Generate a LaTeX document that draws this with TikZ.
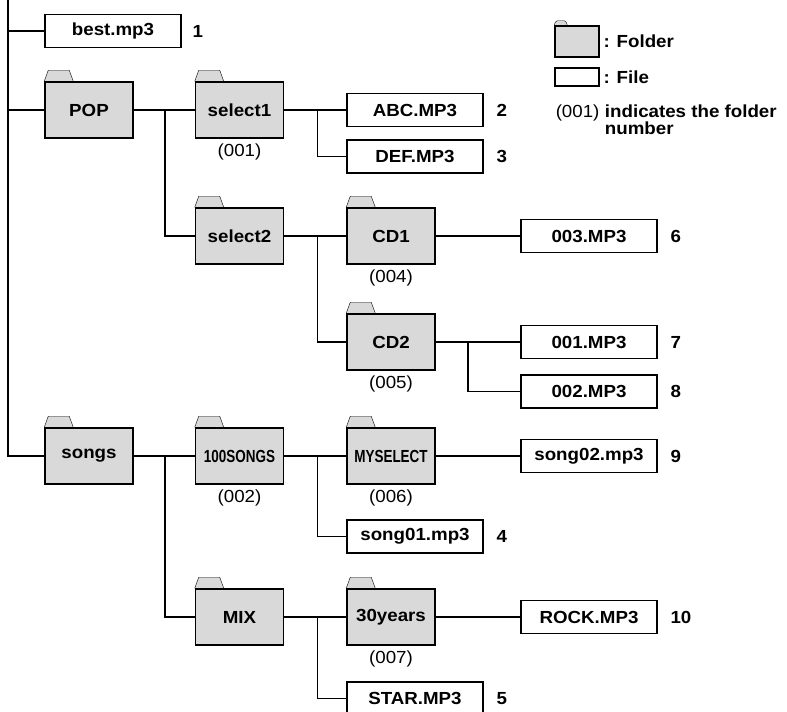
\documentclass[tikz,border=0pt]{standalone}
\usepackage{fontspec}
\setmainfont{Liberation Sans}[FakeStretch=1.07]
\newfontfamily\narrowfont{Liberation Sans}[FakeStretch=0.77]
\usetikzlibrary{positioning}
\usetikzlibrary{backgrounds}
\definecolor{foldergray}{RGB}{217,217,217}
\tikzset{
 folder/.style={draw,fill=foldergray,minimum width=88pt,minimum height=56pt,inner sep=0pt,font=\bfseries\fontsize{17.5}{19}\selectfont},
 file/.style={draw,fill=white,minimum width=136pt,minimum height=33pt,inner sep=0pt,font=\bfseries\fontsize{17.5}{19}\selectfont},
 num/.style={inner sep=0pt,font=\bfseries\fontsize{17.5}{19}\selectfont},
 fnum/.style={inner sep=0pt,font=\fontsize{17.5}{19}\selectfont},
 tab/.style={draw,fill=foldergray,line join=round}
}

\begin{document}
\begin{tikzpicture}[x=1pt,y=-1pt,line width=1.5pt]
 \useasboundingbox (0,0) rectangle (787,712);
 % folders
 \node[folder] (pop) at (89,110) {POP};
 \node[folder] (select1) at (239.5,110) {select1};
 \node[folder] (select2) at (239.5,236) {select2};
 \node[folder] (cd1) at (391,236) {CD1};
 \node[folder] (cd2) at (391,342) {CD2};
 \node[folder] (songs) at (89,456) {songs};
 \node[folder] (hundred) at (239.5,456) {\narrowfont 100SONGS};
 \node[folder] (myselect) at (391,456) {\narrowfont MYSELECT};
 \node[folder] (mix) at (239.5,617) {MIX};
 \node[folder] (thirty) at (391,617) {30years};
 \begin{scope}[on background layer]
 \foreach \f in {pop,select1,select2,cd1,cd2,songs,hundred,myselect,mix,thirty}
  \draw[tab] (\f.north west) -- ++(4,-11) -- ++(21,0) -- ++(4,11);
 \end{scope}
 % files
 \node[file] (best) at (113,31) {best.mp3};
 \node[file] (abc) at (415,110) {ABC.MP3};
 \node[file] (def) at (415,156.5) {DEF.MP3};
 \node[file] (f003) at (589,236) {003.MP3};
 \node[file] (f001) at (589,342) {001.MP3};
 \node[file] (f002) at (589,391.5) {002.MP3};
 \node[file] (song02) at (589,456) {song02.mp3};
 \node[file] (song01) at (415,536.5) {song01.mp3};
 \node[file] (rock) at (589,617) {ROCK.MP3};
 \node[file] (star) at (415,698.5) {STAR.MP3};
 % play order
 \node[num,right=10pt of best] {1};
 \node[num,right=12pt of abc] {2};
 \node[num,right=12pt of def] {3};
 \node[num,right=12pt of song01] {4};
 \node[num,right=12pt of star] {5};
 \node[num,right=12pt of f003] {6};
 \node[num,right=12pt of f001] {7};
 \node[num,right=12pt of f002] {8};
 \node[num,right=12pt of song02] {9};
 \node[num,right=12pt of rock] {10};
 % folder numbers
 \node[fnum,below=4pt of select1] {(001)};
 \node[fnum,below=4pt of hundred] {(002)};
 \node[fnum,below=4pt of cd1] {(004)};
 \node[fnum,below=4pt of cd2] {(005)};
 \node[fnum,below=4pt of myselect] {(006)};
 \node[fnum,below=4pt of thirty] {(007)};
 % lines
 \coordinate (trunk) at (8,0);
 \draw (trunk) |- (songs.west);
 \draw (best.west) -- (best.west -| trunk);
 \draw (pop.west) -- (pop.west -| trunk);
 \coordinate (popfork) at ([xshift=31pt]pop.east);
 \draw (pop.east) -- (select1.west);
 \draw (popfork) |- (select2.west);
 \coordinate (sel1fork) at ([xshift=33pt]select1.east);
 \draw (select1.east) -- (abc.west);
 \draw (sel1fork) |- (def.west);
 \coordinate (sel2fork) at ([xshift=33pt]select2.east);
 \draw (select2.east) -- (cd1.west);
 \draw (sel2fork) |- (cd2.west);
 \draw (cd1.east) -- (f003.west);
 \coordinate (cd2fork) at ([xshift=32pt]cd2.east);
 \draw (cd2.east) -- (f001.west);
 \draw (cd2fork) |- (f002.west);
 \coordinate (songsfork) at ([xshift=31pt]songs.east);
 \draw (songs.east) -- (hundred.west);
 \draw (songsfork) |- (mix.west);
 \coordinate (hundredfork) at ([xshift=33pt]hundred.east);
 \draw (hundred.east) -- (myselect.west);
 \draw (hundredfork) |- (song01.west);
 \draw (myselect.east) -- (song02.west);
 \coordinate (mixfork) at ([xshift=33pt]mix.east);
 \draw (mix.east) -- (thirty.west);
 \draw (mixfork) |- (star.west);
 \draw (thirty.east) -- (rock.west);
 % key
 \node[draw,fill=foldergray,minimum width=44pt,minimum height=31pt,inner sep=0pt] (keyfolder) at (577,41.5) {};
 \begin{scope}[on background layer]
 \draw[tab,rounded corners=1.5pt] (keyfolder.north west) -- ++(1.5,-4.5) -- ++(10,0) -- ++(1.5,4.5);
 \end{scope}
 \node[draw,minimum width=44pt,minimum height=18pt,inner sep=0pt] (keyfile) at (577,77) {};
 \node[num,right=3pt of keyfolder] {: Folder};
 \node[num,right=3pt of keyfile] {: File};
 \node[fnum,anchor=west] (keynum) at (555,113) {(001)};
 \node[num,anchor=north west,align=left,font=\bfseries\fontsize{17.5}{17}\selectfont] at ([xshift=4pt]keynum.north east) {indicates the folder\\number};
\end{tikzpicture}
\end{document}
